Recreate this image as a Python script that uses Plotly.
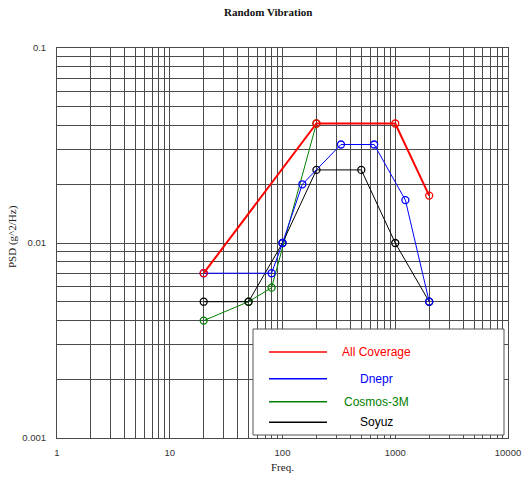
import plotly.graph_objects as go

# ---- data ----
series_names = ["All Coverage", "Dnepr", "Cosmos-3M", "Soyuz"]
series_colors = ["#ff0000", "#0000ff", "#008000", "#000000"]
series_widths = [2, 1, 1, 1]

all_cov_f = [20, 200, 1000, 2000]
all_cov_psd = [0.007, 0.041, 0.041, 0.0175]

dnepr_f = [20, 80, 100, 150, 330, 650, 1230, 2000]
dnepr_psd = [0.007, 0.007, 0.01, 0.02, 0.032, 0.032, 0.0166, 0.005]

cosmos_f = [20, 50, 80, 200]
cosmos_psd = [0.004, 0.005, 0.0059, 0.041]

soyuz_f = [20, 50, 100, 200, 500, 1000, 2000]
soyuz_psd = [0.005, 0.005, 0.01, 0.0237, 0.0237, 0.01, 0.005]

x_decades = [1, 10, 100, 1000, 10000]
y_decades = [0.001, 0.01, 0.1]
x_labels = ["1", "10", "100", "1000", "10000"]
y_labels = ["0.001", "0.01", "0.1"]

title_text = "Random Vibration"
x_title = "Freq."
y_title = "PSD (g^2/Hz)"

xs = [all_cov_f, dnepr_f, cosmos_f, soyuz_f]
ys = [all_cov_psd, dnepr_psd, cosmos_psd, soyuz_psd]

# draw order: green under others
order = [2, 3, 1, 0]

fig = go.Figure()
for i in order:
    fig.add_trace(go.Scatter(
        x=xs[i], y=ys[i], mode="lines+markers", name=series_names[i],
        line=dict(color=series_colors[i], width=series_widths[i]),
        marker=dict(symbol="circle-open", size=7, color=series_colors[i],
                    line=dict(width=1.3, color=series_colors[i])),
        showlegend=False,
    ))

# grid tick values (1..9 per decade)
xtv, xtt = [], []
for d, lab in zip(x_decades[:-1], x_labels[:-1]):
    for k in range(1, 10):
        xtv.append(d * k)
        xtt.append(lab if k == 1 else "")
xtv.append(x_decades[-1]); xtt.append(x_labels[-1])
ytv, ytt = [], []
for d, lab in zip(y_decades[:-1], y_labels[:-1]):
    for k in range(1, 10):
        ytv.append(d * k)
        ytt.append(lab if k == 1 else "")
ytv.append(y_decades[-1]); ytt.append(y_labels[-1])

grid_col = "#4a4a4a"
tick_font = dict(family="Liberation Sans, Arial, sans-serif", size=9.5, color="#333333")

fig.update_xaxes(type="log", range=[0, 4], tickmode="array", tickvals=xtv, ticktext=xtt,
                 showgrid=True, gridcolor=grid_col, gridwidth=1, zeroline=False,
                 showline=True, linecolor=grid_col, mirror=True, ticks="",
                 tickfont=tick_font, ticklabelstandoff=6, automargin=False)
fig.update_yaxes(type="log", range=[-3, -1], tickmode="array", tickvals=ytv, ticktext=ytt,
                 showgrid=True, gridcolor=grid_col, gridwidth=1, zeroline=False,
                 showline=True, linecolor=grid_col, mirror=True, ticks="",
                 tickfont=tick_font, ticklabelstandoff=8, automargin=False)

serif = "Liberation Serif, Times New Roman, serif"
fig.update_layout(
    width=524, height=486, autosize=False,
    margin=dict(l=57, r=16, t=48, b=48, autoexpand=False),
    paper_bgcolor="white", plot_bgcolor="white",
    showlegend=False,
)

ann = [
    dict(text="<b>" + title_text + "</b>", xref="paper", yref="paper", x=(268 - 57) / 451, y=1.0 + 36 / 390,
         showarrow=False, font=dict(family=serif, size=11, color="#111111"), xanchor="center", yanchor="middle"),
    dict(text=x_title, xref="paper", yref="paper", x=(282 - 57) / 451, y=-28.5 / 390,
         showarrow=False, font=dict(family=serif, size=11, color="#222222"), xanchor="center", yanchor="middle"),
    dict(text=y_title, xref="paper", yref="paper", x=-45 / 451, y=(438 - 237) / 390, textangle=-90,
         showarrow=False, font=dict(family=serif, size=11, color="#222222"), xanchor="center", yanchor="middle"),
]

# manual legend
shapes = [dict(type="rect", xref="paper", yref="paper", x0=(253 - 57) / 451, x1=(504 - 57) / 451,
               y0=(438 - 435) / 390, y1=(438 - 329) / 390, fillcolor="white",
               line=dict(color="#555555", width=1), layer="above")]
leg_y = [352, 378.7, 401.7, 422.3]
for i, yy in enumerate(leg_y):
    yp = (438 - yy) / 390
    shapes.append(dict(type="line", xref="paper", yref="paper", x0=(269 - 57) / 451, x1=(327 - 57) / 451,
                       y0=yp, y1=yp, line=dict(color=series_colors[i], width=1.5), layer="above"))
    ann.append(dict(text=series_names[i], xref="paper", yref="paper", x=(376 - 57) / 451, y=yp,
                    showarrow=False, xanchor="center", yanchor="middle",
                    font=dict(family="Liberation Sans, Arial, sans-serif", size=12, color=series_colors[i])))

fig.update_layout(shapes=shapes, annotations=ann)
fig.write_html("out.html")
